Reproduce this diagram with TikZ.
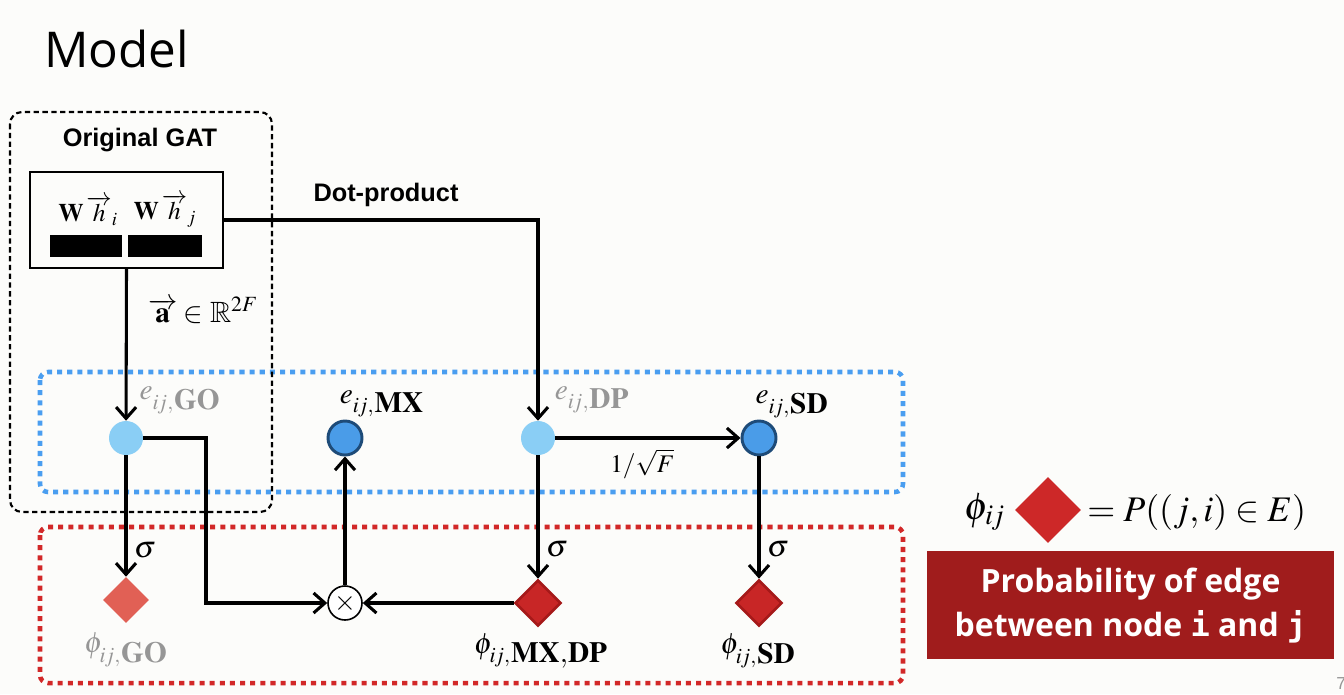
\documentclass[tikz,border=0pt]{standalone}
\usepackage{amssymb}
\usepackage{mathptmx}
\usepackage[no-math]{fontspec}
\setsansfont{Liberation Sans}
\newfontfamily\titlefont{Open Sans}
\newfontfamily\probfont{Open Sans}
\newfontfamily\monofont{DejaVu Sans Mono}
\usetikzlibrary{arrows.meta,shapes.geometric}
\definecolor{bgc}{RGB}{252,252,250}
\definecolor{dotblue}{RGB}{74,158,240}
\definecolor{dotred}{RGB}{210,40,40}
\definecolor{lightblue}{RGB}{138,206,245}
\definecolor{midblue}{RGB}{74,156,232}
\definecolor{darkblue}{RGB}{30,75,120}
\definecolor{lightred}{RGB}{225,96,85}
\definecolor{diared}{RGB}{200,38,38}
\definecolor{diaborder}{RGB}{165,25,25}
\definecolor{legred}{RGB}{205,40,40}
\definecolor{boxred}{RGB}{160,28,28}
\definecolor{labgray}{RGB}{150,150,150}
\newcommand{\ijx}{i\mkern-1mu j,\mkern-2mu}
\begin{document}
\begin{tikzpicture}[x=0.75pt,y=-0.75pt,
  arr/.style={line width=2.3pt,-{Straight Barb[length=8.5pt,width=15pt]}},
  lightc/.style={circle,fill=lightblue,minimum size=34*0.75pt,inner sep=0pt},
  darkc/.style={circle,fill=midblue,draw=darkblue,line width=2.2pt,minimum size=34*0.75pt,inner sep=0pt},
  dia/.style={diamond,aspect=1,minimum width=46*0.75pt,minimum height=46*0.75pt,inner sep=0pt},
  lab/.style={font=\fontsize{22}{26}\selectfont,inner sep=1pt},
  glab/.style={lab,text=labgray},
  sig/.style={font=\fontsize{23}{26}\selectfont,inner sep=1pt},
  head/.style={font=\sffamily\bfseries\fontsize{19}{22}\selectfont},
  dotbox/.style={line width=3.4pt,dash pattern=on 3.8pt off 3.8pt,rounded corners=6pt}
]
\fill[bgc] (0,0) rectangle (1344,694);
\useasboundingbox (0,0) rectangle (1344,694);

% title
\node[anchor=base west,inner sep=0pt,font=\titlefont\fontsize{37}{40}\selectfont] (title) at (44,67) {Model};

% group frames
\draw[dotbox,dotblue] (40,372) rectangle (903,492);
\draw[dotbox,dotred] (40,527) rectangle (903,683);
\draw[line width=1.6pt,dash pattern=on 4pt off 2.6pt,rounded corners=9pt] (10,112) rectangle (272,512);

\node[head] (gat) at (140,140) {Original GAT};
\node[head] (dot) at (386,195) {Dot-product};

% W h box
\node[draw,line width=1.2pt,minimum width=193*0.75pt,minimum height=96*0.75pt,inner sep=0pt] (box) at (126.5,220) {};
\node[font=\fontsize{19}{21}\selectfont,inner sep=0pt] (hi) at (88,211) {$\mathbf{W}\,\overrightarrow{h}_{i}$};
\node[font=\fontsize{19}{21}\selectfont,inner sep=0pt] (hj) at (165,211) {$\mathbf{W}\,\overrightarrow{h}_{j}$};
\fill (50,235) rectangle (122,257);
\fill (128,235) rectangle (202,257);

% nodes
\node[lightc] (eGO) at (126,438) {};
\node[darkc] (eMX) at (345,438) {};
\node[lightc] (eDP) at (538,438) {};
\node[darkc] (eSD) at (759,438) {};
\node[dia,fill=lightred] (pGO) at (126,600) {};
\node[circle,draw,line width=1.2pt,fill=white,minimum size=34*0.75pt,inner sep=0pt,font=\fontsize{21}{22}\selectfont] (ot) at (345,603) {$\times$};
\node[dia,fill=diared,draw=diaborder,line width=2pt] (pMX) at (538,603) {};
\node[dia,fill=diared,draw=diaborder,line width=2pt] (pSD) at (759,603) {};

% labels
\node[glab] (leGO) at (180,400) {$e_{\ijx\textstyle\mathbf{GO}}$};
\node[lab] (leMX) at (382,404) {$e_{\ijx\textstyle\mathbf{MX}}$};
\node[glab] (leDP) at (592,400) {$e_{\ijx\textstyle\mathbf{DP}}$};
\node[lab] (leSD) at (792,404) {$e_{\ijx\textstyle\mathbf{SD}}$};
\node[glab] (lpGO) at (126,650) {$\phi_{\ijx\textstyle\mathbf{GO}}$};
\node[lab] (lpMX) at (541,651) {$\phi_{\ijx\textstyle\mathbf{MX{,}DP}}$};
\node[lab] (lpSD) at (758,651) {$\phi_{\ijx\textstyle\mathbf{SD}}$};
\node[lab] (la) at (203,310) {$\overrightarrow{\mathbf{a}}\in\mathbb{R}^{2F}$};

% connectors
\draw[arr] (box.south) -- (eGO);
\draw[arr] (box.east) -| (eDP);
\draw[arr] (eGO) -- node[sig,right=4pt,pos=0.78] (s1) {$\sigma$} (pGO);
\coordinate (bend) at (206,438);
\draw[arr] (eGO) -- (bend) |- (ot);
\draw[arr] (ot) -- (eMX);
\draw[arr] (pMX) -- (ot);
\draw[arr] (eDP) -- node[font=\fontsize{19}{22}\selectfont,below=4pt,pos=0.47] (sf) {$1/\sqrt{F}$} (eSD);
\draw[arr] (eDP) -- node[sig,right=4pt,pos=0.76] (s2) {$\sigma$} (pMX);
\draw[arr] (eSD) -- node[sig,right=4pt,pos=0.76] (s3) {$\sigma$} (pSD);

% legend
\node[font=\fontsize{29}{33}\selectfont,inner sep=0pt] (lphi) at (985,512) {$\phi_{i\mkern-1mu j}$};
\node[diamond,aspect=1,fill=legred,minimum width=66*0.75pt,minimum height=66*0.75pt,inner sep=0pt] (ldia) at (1048,510) {};
\node[anchor=west,font=\fontsize{27}{31}\selectfont,inner sep=0pt] (leq) at (1087,512) {$=P((j,i)\in E)$};
\node[fill=boxred,minimum width=407*0.75pt,minimum height=108*0.75pt,inner sep=0pt] (prob) at (1130.5,605) {};
\node[text=white,align=center,font=\probfont\bfseries\fontsize{24}{33}\selectfont] (probt) at (1130.5,606) {Probability of edge\\between node {\monofont\bfseries i} and {\monofont\bfseries j}};
\node[anchor=west,text=labgray,font=\sffamily\fontsize{13}{15}\selectfont,inner sep=0pt] (pg) at (1336,684) {7};
\end{tikzpicture}
\end{document}
